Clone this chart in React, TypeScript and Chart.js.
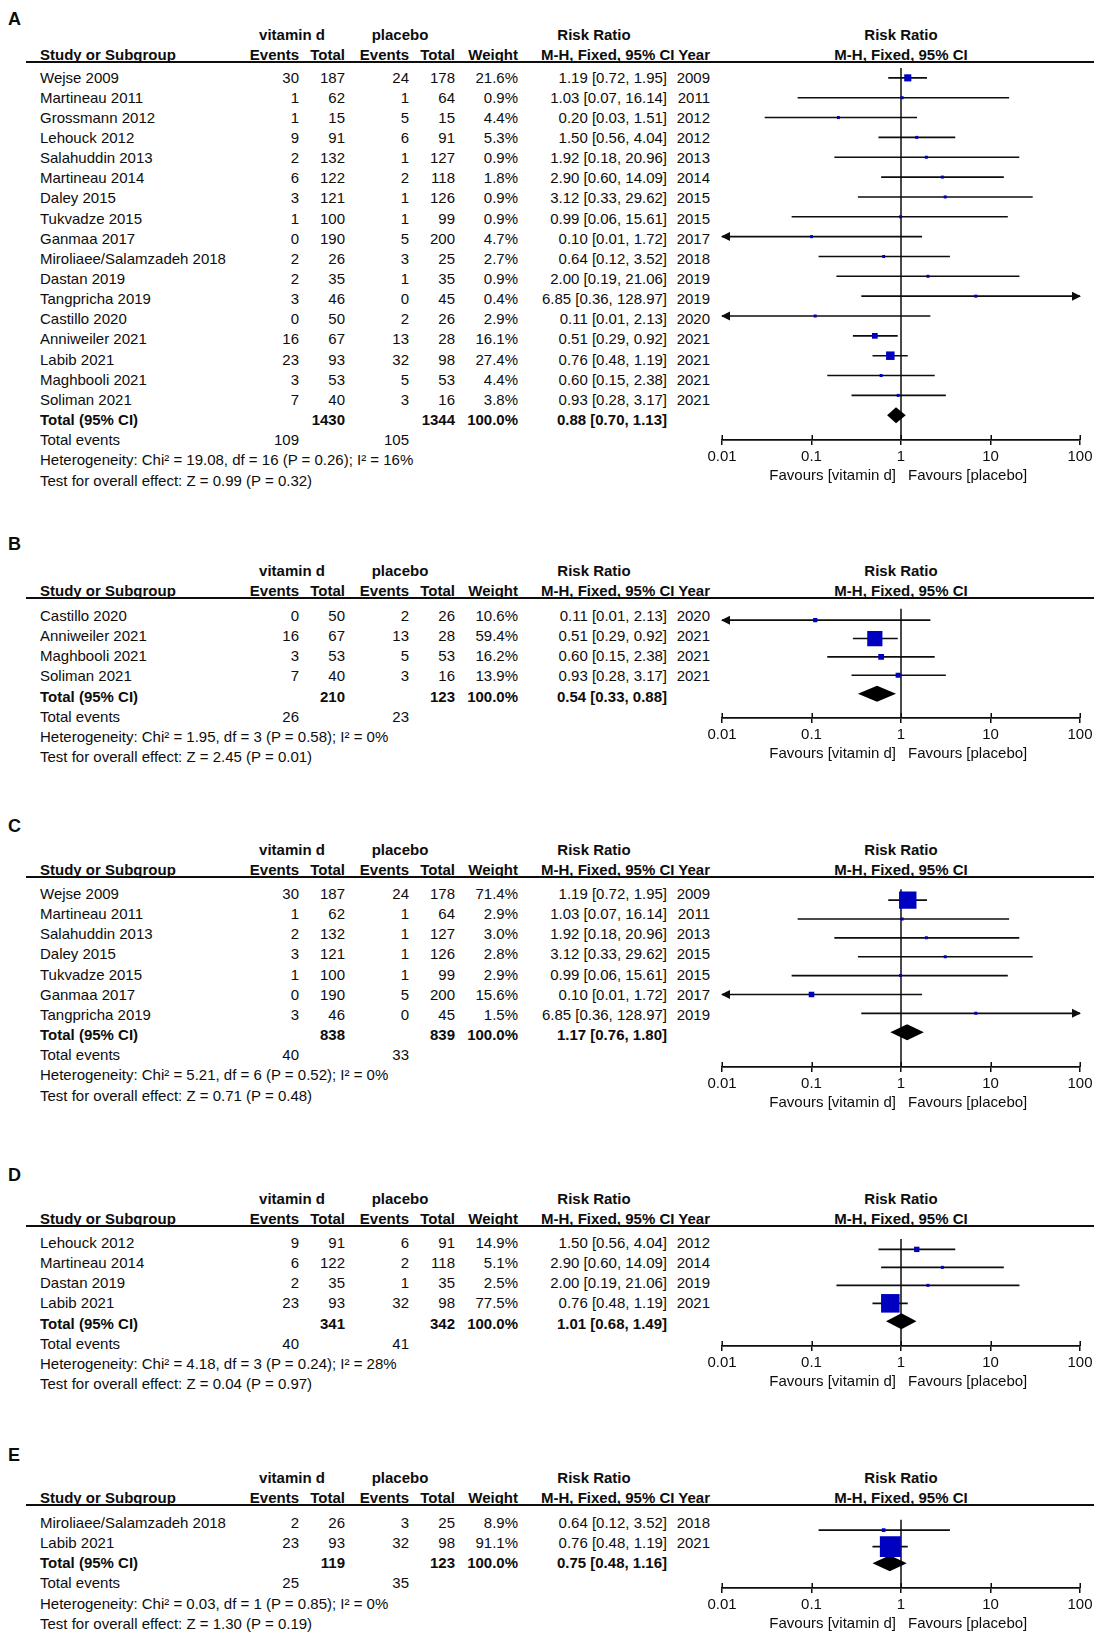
import React, { useEffect, useRef } from 'react';
import { Chart, registerables } from 'chart.js';

Chart.register(...registerables);

// ---------------- data ----------------
const axisTicks = [0.01, 0.1, 1, 10, 100];
const axisTickLabels = ['0.01', '0.1', '1', '10', '100'];

// Panel A
const studiesA = ['Wejse 2009', 'Martineau 2011', 'Grossmann 2012', 'Lehouck 2012', 'Salahuddin 2013', 'Martineau 2014', 'Daley 2015', 'Tukvadze 2015', 'Ganmaa 2017', 'Miroliaee/Salamzadeh 2018', 'Dastan 2019', 'Tangpricha 2019', 'Castillo 2020', 'Anniweiler 2021', 'Labib 2021', 'Maghbooli 2021', 'Soliman 2021'];
const vitEventsA = [30, 1, 1, 9, 2, 6, 3, 1, 0, 2, 2, 3, 0, 16, 23, 3, 7];
const vitTotalA = [187, 62, 15, 91, 132, 122, 121, 100, 190, 26, 35, 46, 50, 67, 93, 53, 40];
const plEventsA = [24, 1, 5, 6, 1, 2, 1, 1, 5, 3, 1, 0, 2, 13, 32, 5, 3];
const plTotalA = [178, 64, 15, 91, 127, 118, 126, 99, 200, 25, 35, 45, 26, 28, 98, 53, 16];
const weightA = [21.6, 0.9, 4.4, 5.3, 0.9, 1.8, 0.9, 0.9, 4.7, 2.7, 0.9, 0.4, 2.9, 16.1, 27.4, 4.4, 3.8];
const rrA = [1.19, 1.03, 0.2, 1.5, 1.92, 2.9, 3.12, 0.99, 0.1, 0.64, 2.0, 6.85, 0.11, 0.51, 0.76, 0.6, 0.93];
const lowerA = [0.72, 0.07, 0.03, 0.56, 0.18, 0.6, 0.33, 0.06, 0.01, 0.12, 0.19, 0.36, 0.01, 0.29, 0.48, 0.15, 0.28];
const upperA = [1.95, 16.14, 1.51, 4.04, 20.96, 14.09, 29.62, 15.61, 1.72, 3.52, 21.06, 128.97, 2.13, 0.92, 1.19, 2.38, 3.17];
const yearA = [2009, 2011, 2012, 2012, 2013, 2014, 2015, 2015, 2017, 2018, 2019, 2019, 2020, 2021, 2021, 2021, 2021];
const totalsA = [1430, 1344];
const totalRrA = [0.88, 0.7, 1.13];
const totalEventsA = [109, 105];
const hetA = 'Heterogeneity: Chi² = 19.08, df = 16 (P = 0.26); I² = 16%';
const testA = 'Test for overall effect: Z = 0.99 (P = 0.32)';

// Panel B
const studiesB = ['Castillo 2020', 'Anniweiler 2021', 'Maghbooli 2021', 'Soliman 2021'];
const vitEventsB = [0, 16, 3, 7];
const vitTotalB = [50, 67, 53, 40];
const plEventsB = [2, 13, 5, 3];
const plTotalB = [26, 28, 53, 16];
const weightB = [10.6, 59.4, 16.2, 13.9];
const rrB = [0.11, 0.51, 0.6, 0.93];
const lowerB = [0.01, 0.29, 0.15, 0.28];
const upperB = [2.13, 0.92, 2.38, 3.17];
const yearB = [2020, 2021, 2021, 2021];
const totalsB = [210, 123];
const totalRrB = [0.54, 0.33, 0.88];
const totalEventsB = [26, 23];
const hetB = 'Heterogeneity: Chi² = 1.95, df = 3 (P = 0.58); I² = 0%';
const testB = 'Test for overall effect: Z = 2.45 (P = 0.01)';

// Panel C
const studiesC = ['Wejse 2009', 'Martineau 2011', 'Salahuddin 2013', 'Daley 2015', 'Tukvadze 2015', 'Ganmaa 2017', 'Tangpricha 2019'];
const vitEventsC = [30, 1, 2, 3, 1, 0, 3];
const vitTotalC = [187, 62, 132, 121, 100, 190, 46];
const plEventsC = [24, 1, 1, 1, 1, 5, 0];
const plTotalC = [178, 64, 127, 126, 99, 200, 45];
const weightC = [71.4, 2.9, 3.0, 2.8, 2.9, 15.6, 1.5];
const rrC = [1.19, 1.03, 1.92, 3.12, 0.99, 0.1, 6.85];
const lowerC = [0.72, 0.07, 0.18, 0.33, 0.06, 0.01, 0.36];
const upperC = [1.95, 16.14, 20.96, 29.62, 15.61, 1.72, 128.97];
const yearC = [2009, 2011, 2013, 2015, 2015, 2017, 2019];
const totalsC = [838, 839];
const totalRrC = [1.17, 0.76, 1.8];
const totalEventsC = [40, 33];
const hetC = 'Heterogeneity: Chi² = 5.21, df = 6 (P = 0.52); I² = 0%';
const testC = 'Test for overall effect: Z = 0.71 (P = 0.48)';

// Panel D
const studiesD = ['Lehouck 2012', 'Martineau 2014', 'Dastan 2019', 'Labib 2021'];
const vitEventsD = [9, 6, 2, 23];
const vitTotalD = [91, 122, 35, 93];
const plEventsD = [6, 2, 1, 32];
const plTotalD = [91, 118, 35, 98];
const weightD = [14.9, 5.1, 2.5, 77.5];
const rrD = [1.5, 2.9, 2.0, 0.76];
const lowerD = [0.56, 0.6, 0.19, 0.48];
const upperD = [4.04, 14.09, 21.06, 1.19];
const yearD = [2012, 2014, 2019, 2021];
const totalsD = [341, 342];
const totalRrD = [1.01, 0.68, 1.49];
const totalEventsD = [40, 41];
const hetD = 'Heterogeneity: Chi² = 4.18, df = 3 (P = 0.24); I² = 28%';
const testD = 'Test for overall effect: Z = 0.04 (P = 0.97)';

// Panel E
const studiesE = ['Miroliaee/Salamzadeh 2018', 'Labib 2021'];
const vitEventsE = [2, 23];
const vitTotalE = [26, 93];
const plEventsE = [3, 32];
const plTotalE = [25, 98];
const weightE = [8.9, 91.1];
const rrE = [0.64, 0.76];
const lowerE = [0.12, 0.48];
const upperE = [3.52, 1.19];
const yearE = [2018, 2021];
const totalsE = [119, 123];
const totalRrE = [0.75, 0.48, 1.16];
const totalEventsE = [25, 35];
const hetE = 'Heterogeneity: Chi² = 0.03, df = 1 (P = 0.85); I² = 0%';
const testE = 'Test for overall effect: Z = 1.30 (P = 0.19)';

// ---------------- layout / style ----------------
const FONT = '"Liberation Sans", Arial, Helvetica, sans-serif';
const INK = '#0d0d0d';
const BOX = '#0000c0';
const PITCH = 20.15;
const MARK_UP = 5;
const AXIS_H = 30;
const PLOT_LEFT = 722;
const PLOT_RIGHT = 1080;
const PAD_L = 40;
const PAD_R = 18;
const CANVAS_LEFT = PLOT_LEFT - PAD_L;
const CANVAS_W = PLOT_RIGHT - PLOT_LEFT + PAD_L + PAD_R;
const PLOT_MID = (PLOT_LEFT + PLOT_RIGHT) / 2;

const COL = {
  label: 40,
  vitEv: 299,
  vitTot: 345,
  plEv: 409,
  plTot: 455,
  weight: 518,
  rr: 667,
  year: 710,
  vitHead: 292,
  plHead: 400,
  rrHead: 594,
};

type PanelData = {
  letter: string;
  studies: string[];
  vitEvents: number[];
  vitTotal: number[];
  plEvents: number[];
  plTotal: number[];
  weight: number[];
  rr: number[];
  lower: number[];
  upper: number[];
  year: number[];
  totals: number[];
  totalRr: number[];
  totalEvents: number[];
  het: string;
  test: string;
};

type PanelLayout = { letterY: number; line: number; first: number; axisOff: number };

const panels: PanelData[] = [
  { letter: 'A', studies: studiesA, vitEvents: vitEventsA, vitTotal: vitTotalA, plEvents: plEventsA, plTotal: plTotalA, weight: weightA, rr: rrA, lower: lowerA, upper: upperA, year: yearA, totals: totalsA, totalRr: totalRrA, totalEvents: totalEventsA, het: hetA, test: testA },
  { letter: 'B', studies: studiesB, vitEvents: vitEventsB, vitTotal: vitTotalB, plEvents: plEventsB, plTotal: plTotalB, weight: weightB, rr: rrB, lower: lowerB, upper: upperB, year: yearB, totals: totalsB, totalRr: totalRrB, totalEvents: totalEventsB, het: hetB, test: testB },
  { letter: 'C', studies: studiesC, vitEvents: vitEventsC, vitTotal: vitTotalC, plEvents: plEventsC, plTotal: plTotalC, weight: weightC, rr: rrC, lower: lowerC, upper: upperC, year: yearC, totals: totalsC, totalRr: totalRrC, totalEvents: totalEventsC, het: hetC, test: testC },
  { letter: 'D', studies: studiesD, vitEvents: vitEventsD, vitTotal: vitTotalD, plEvents: plEventsD, plTotal: plTotalD, weight: weightD, rr: rrD, lower: lowerD, upper: upperD, year: yearD, totals: totalsD, totalRr: totalRrD, totalEvents: totalEventsD, het: hetD, test: testD },
  { letter: 'E', studies: studiesE, vitEvents: vitEventsE, vitTotal: vitTotalE, plEvents: plEventsE, plTotal: plTotalE, weight: weightE, rr: rrE, lower: lowerE, upper: upperE, year: yearE, totals: totalsE, totalRr: totalRrE, totalEvents: totalEventsE, het: hetE, test: testE },
];

const layouts: PanelLayout[] = [
  { letterY: 19, line: 61.5, first: 76.5, axisOff: 0 },
  { letterY: 544, line: 597.5, first: 615, axisOff: 1.5 },
  { letterY: 825.5, line: 876.5, first: 893, axisOff: 12 },
  { letterY: 1174.6, line: 1225.5, first: 1242, axisOff: 2.5 },
  { letterY: 1454.6, line: 1504.5, first: 1522, axisOff: 5 },
];

const ci = (e: number, l: number, h: number) => `${e.toFixed(2)} [${l.toFixed(2)}, ${h.toFixed(2)}]`;
const boxSide = (w: number) => Math.max(3, 0.71 * Math.pow(w, 0.75));

// ---------------- text helper ----------------
type TProps = { x: number; y: number; align?: 'left' | 'right' | 'center'; bold?: boolean; size?: number; children: React.ReactNode };
function T({ x, y, align = 'left', bold = false, size = 15, children }: TProps) {
  const tf = align === 'left' ? 'translateY(-50%)' : align === 'right' ? 'translate(-100%, -50%)' : 'translate(-50%, -50%)';
  return (
    <div
      style={{
        position: 'absolute',
        left: x,
        top: y,
        transform: tf,
        whiteSpace: 'nowrap',
        fontFamily: FONT,
        fontSize: size,
        lineHeight: `${size}px`,
        fontWeight: bold ? 700 : 400,
        color: INK,
      }}
    >
      {children}
    </div>
  );
}

// ---------------- forest canvas ----------------
function ForestCanvas({ p, L }: { p: PanelData; L: PanelLayout }) {
  const ref = useRef<HTMLCanvasElement>(null);
  const n = p.studies.length;
  const teY = L.first + (n + 1) * PITCH;
  const axisY = teY + L.axisOff;
  const areaH = axisY - L.line;
  const canvasH = Math.round(areaH + AXIS_H);

  useEffect(() => {
    if (!ref.current) return;
    const y0 = (L.first - MARK_UP - L.line) / PITCH;
    const yMin = -y0;
    const yMax = yMin + areaH / PITCH;

    const forest = {
      id: 'forest',
      beforeDatasetsDraw(chart: any) {
        const { ctx, chartArea } = chart;
        const xs = chart.scales.x;
        const ys = chart.scales.y;
        ctx.save();
        // line of no effect
        const x1 = xs.getPixelForValue(1);
        ctx.strokeStyle = INK;
        ctx.lineWidth = 1.5;
        ctx.beginPath();
        ctx.moveTo(x1, chartArea.top);
        ctx.lineTo(x1, chartArea.bottom);
        ctx.stroke();
        // confidence intervals
        ctx.lineWidth = 1.6;
        ctx.fillStyle = INK;
        p.rr.forEach((_, i) => {
          const y = ys.getPixelForValue(i);
          const lo = Math.max(p.lower[i], axisTicks[0]);
          const hi = Math.min(p.upper[i], axisTicks[axisTicks.length - 1]);
          const xl = xs.getPixelForValue(lo);
          const xh = xs.getPixelForValue(hi);
          ctx.beginPath();
          ctx.moveTo(xl, y);
          ctx.lineTo(xh, y);
          ctx.stroke();
          if (p.lower[i] <= axisTicks[0]) {
            ctx.beginPath();
            ctx.moveTo(xl - 1, y);
            ctx.lineTo(xl + 8, y - 4.5);
            ctx.lineTo(xl + 8, y + 4.5);
            ctx.closePath();
            ctx.fill();
          }
          if (p.upper[i] >= axisTicks[axisTicks.length - 1]) {
            ctx.beginPath();
            ctx.moveTo(xh + 1, y);
            ctx.lineTo(xh - 8, y - 4.5);
            ctx.lineTo(xh - 8, y + 4.5);
            ctx.closePath();
            ctx.fill();
          }
        });
        // pooled diamond
        const yT = ys.getPixelForValue(n);
        const xe = xs.getPixelForValue(p.totalRr[0]);
        const xdl = xs.getPixelForValue(p.totalRr[1]);
        const xdh = xs.getPixelForValue(p.totalRr[2]);
        ctx.fillStyle = '#000';
        ctx.beginPath();
        ctx.moveTo(xdl, yT);
        ctx.lineTo(xe, yT - 8);
        ctx.lineTo(xdh, yT);
        ctx.lineTo(xe, yT + 8);
        ctx.closePath();
        ctx.fill();
        ctx.restore();
      },
      afterDraw(chart: any) {
        const { ctx, chartArea } = chart;
        const xs = chart.scales.x;
        ctx.save();
        ctx.strokeStyle = INK;
        ctx.lineWidth = 1.5;
        ctx.beginPath();
        axisTicks.forEach((v) => {
          const px = Math.round(xs.getPixelForValue(v)) + 0.25;
          ctx.moveTo(px, chartArea.bottom - 5);
          ctx.lineTo(px, chartArea.bottom);
        });
        ctx.stroke();
        ctx.restore();
      },
    };

    const radii = p.weight.map((w) => boxSide(w) / Math.SQRT2);
    const chart = new Chart(ref.current, {
      type: 'scatter',
      data: {
        datasets: [
          {
            data: p.rr.map((v, i) => ({ x: v, y: i })),
            pointStyle: 'rect',
            pointRadius: radii,
            pointHoverRadius: radii,
            backgroundColor: BOX,
            borderColor: BOX,
            borderWidth: 0,
          },
        ],
      },
      options: {
        animation: false,
        responsive: false,
        events: [],
        layout: { padding: { left: PAD_L, right: PAD_R, top: 0, bottom: 0 } },
        plugins: { legend: { display: false }, tooltip: { enabled: false }, title: { display: false } },
        scales: {
          x: {
            type: 'logarithmic',
            position: 'bottom',
            min: axisTicks[0],
            max: axisTicks[axisTicks.length - 1],
            bounds: 'data',
            offset: false,
            afterBuildTicks: (s: any) => {
              s.ticks = axisTicks.map((v) => ({ value: v, major: false }));
            },
            afterFit: (s: any) => {
              s.height = AXIS_H;
            },
            ticks: {
              autoSkip: false,
              maxRotation: 0,
              minRotation: 0,
              padding: 3,
              color: INK,
              font: { family: FONT, size: 15 },
              callback: (_v: any, idx: number) => axisTickLabels[idx],
            },
            grid: { display: true, drawOnChartArea: false, drawTicks: true, tickLength: 5, color: INK, lineWidth: 1.5 },
            border: { display: true, color: INK, width: 1.8 },
          },
          y: {
            type: 'linear',
            display: false,
            reverse: true,
            bounds: 'data',
            min: yMin,
            max: yMax,
          },
        },
      } as any,
      plugins: [forest as any],
    });
    return () => chart.destroy();
  }, []);

  return (
    <div style={{ position: 'absolute', left: CANVAS_LEFT, top: L.line, width: CANVAS_W, height: canvasH }}>
      <canvas ref={ref} width={CANVAS_W} height={canvasH} style={{ width: CANVAS_W, height: canvasH, display: 'block' }} />
    </div>
  );
}

// ---------------- panel ----------------
function Panel({ p, L }: { p: PanelData; L: PanelLayout }) {
  const n = p.studies.length;
  const h1 = L.line - 28;
  const h2 = L.line - 8;
  const rowY = (i: number) => L.first + i * PITCH;
  const axisY = L.first + (n + 1) * PITCH + L.axisOff;
  return (
    <>
      <T x={8} y={L.letterY} bold size={18}>{p.letter}</T>
      <T x={COL.vitHead} y={h1} align="center" bold>vitamin d</T>
      <T x={COL.plHead} y={h1} align="center" bold>placebo</T>
      <T x={COL.rrHead} y={h1} align="center" bold>Risk Ratio</T>
      <T x={PLOT_MID} y={h1} align="center" bold>Risk Ratio</T>

      <T x={COL.label} y={h2} bold>Study or Subgroup</T>
      <T x={COL.vitEv} y={h2} align="right" bold>Events</T>
      <T x={COL.vitTot} y={h2} align="right" bold>Total</T>
      <T x={COL.plEv} y={h2} align="right" bold>Events</T>
      <T x={COL.plTot} y={h2} align="right" bold>Total</T>
      <T x={COL.weight} y={h2} align="right" bold>Weight</T>
      <T x={COL.year} y={h2} align="right" bold>M-H, Fixed, 95% CI Year</T>
      <T x={PLOT_MID} y={h2} align="center" bold>M-H, Fixed, 95% CI</T>

      <div style={{ position: 'absolute', left: 26, top: L.line - 1, width: 1094 - 26, height: 2, background: INK }} />

      {p.studies.map((s, i) => (
        <React.Fragment key={s + i}>
          <T x={COL.label} y={rowY(i)}>{s}</T>
          <T x={COL.vitEv} y={rowY(i)} align="right">{p.vitEvents[i]}</T>
          <T x={COL.vitTot} y={rowY(i)} align="right">{p.vitTotal[i]}</T>
          <T x={COL.plEv} y={rowY(i)} align="right">{p.plEvents[i]}</T>
          <T x={COL.plTot} y={rowY(i)} align="right">{p.plTotal[i]}</T>
          <T x={COL.weight} y={rowY(i)} align="right">{p.weight[i].toFixed(1)}%</T>
          <T x={COL.rr} y={rowY(i)} align="right">{ci(p.rr[i], p.lower[i], p.upper[i])}</T>
          <T x={COL.year} y={rowY(i)} align="right">{p.year[i]}</T>
        </React.Fragment>
      ))}

      <T x={COL.label} y={rowY(n)} bold>Total (95% CI)</T>
      <T x={COL.vitTot} y={rowY(n)} align="right" bold>{p.totals[0]}</T>
      <T x={COL.plTot} y={rowY(n)} align="right" bold>{p.totals[1]}</T>
      <T x={COL.weight} y={rowY(n)} align="right" bold>100.0%</T>
      <T x={COL.rr} y={rowY(n)} align="right" bold>{ci(p.totalRr[0], p.totalRr[1], p.totalRr[2])}</T>

      <T x={COL.label} y={rowY(n + 1)}>Total events</T>
      <T x={COL.vitEv} y={rowY(n + 1)} align="right">{p.totalEvents[0]}</T>
      <T x={COL.plEv} y={rowY(n + 1)} align="right">{p.totalEvents[1]}</T>
      <T x={COL.label} y={rowY(n + 2)}>{p.het}</T>
      <T x={COL.label} y={rowY(n + 3)}>{p.test}</T>

      <ForestCanvas p={p} L={L} />

      <T x={896} y={axisY + 35} align="right">Favours [vitamin d]</T>
      <T x={908} y={axisY + 35}>Favours [placebo]</T>
    </>
  );
}

export default function App() {
  useEffect(() => {
    document.documentElement.style.overflow = 'hidden';
    document.body.style.margin = '0';
  }, []);
  return (
    <div style={{ position: 'absolute', left: 0, top: 0, width: 1100, height: 1637, overflow: 'hidden', background: '#fff' }}>
      {panels.map((p, i) => (
        <Panel key={p.letter} p={p} L={layouts[i]} />
      ))}
    </div>
  );
}
